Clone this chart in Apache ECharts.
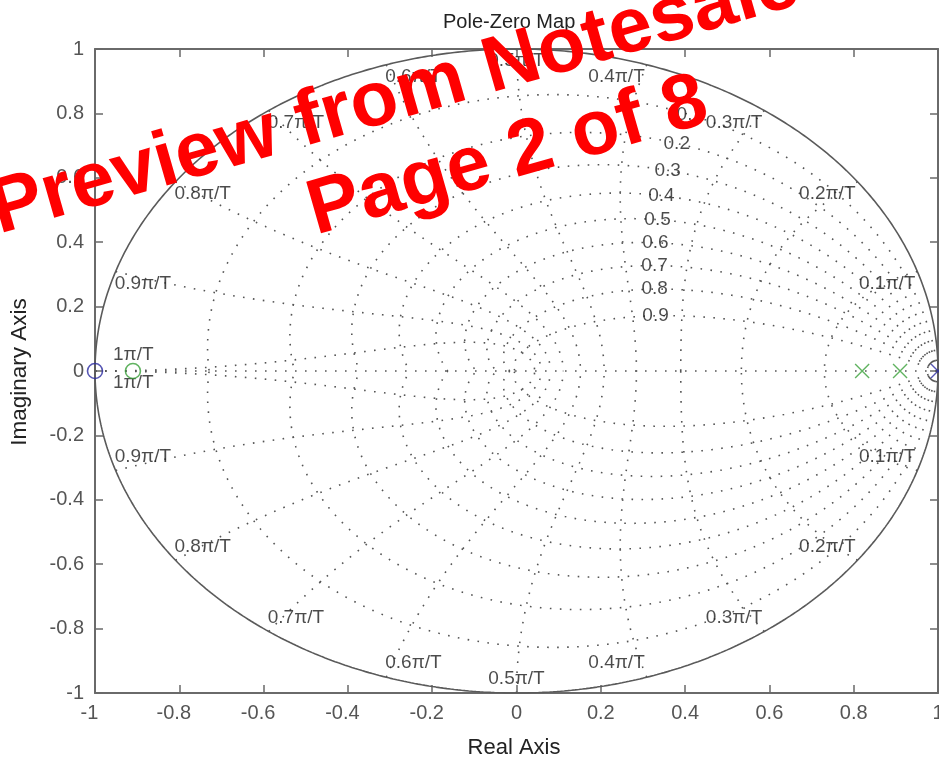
<!DOCTYPE html>
<html><head><meta charset="utf-8">
<script src="https://cdn.jsdelivr.net/npm/echarts@6/dist/echarts.min.js"></script>
<style>html,body{margin:0;padding:0;background:#fff;}#c{width:939px;height:762px;}</style>
</head><body><div id="c"></div>
<script>
// ---- data ----
const zetaValues = [0.1, 0.2, 0.3, 0.4, 0.5, 0.6, 0.7, 0.8, 0.9];
const zetaLabels = ['0.1', '0.2', '0.3', '0.4', '0.5', '0.6', '0.7', '0.8', '0.9'];
const wnValues = [0.1, 0.2, 0.3, 0.4, 0.5, 0.6, 0.7, 0.8, 0.9, 1.0]; // units of pi/T
const wnLabels = ['0.1π/T', '0.2π/T', '0.3π/T', '0.4π/T', '0.5π/T', '0.6π/T', '0.7π/T', '0.8π/T', '0.9π/T', '1π/T'];
const zetaLabelWn = 0.35; // natural frequency (pi/T) where damping labels sit
const zerosBlue = [[-1, 0]];
const zerosGreen = [[-0.91, 0]];
const polesGreen = [[0.82, 0], [0.91, 0]];
const polesBlue = [[1, 0]];
const axisMin = -1, axisMax = 1, axisStep = 0.2;
const titleText = 'Pole-Zero Map';
const xName = 'Real Axis';
const yName = 'Imaginary Axis';
const watermark = ['Preview from Notesale', 'Page 2 of 8'];

const FONT = '"Liberation Sans", Arial, sans-serif';
const DOT = { color: '#555', width: 1.6, type: [1.6, 8.4], cap: 'butt' };
const N = 240;

function zetaCurve(z, s) {
  const m = z / Math.sqrt(1 - z * z), pts = [];
  for (let i = 0; i <= N; i++) {
    const th = Math.PI * i / N, r = Math.exp(-m * th);
    pts.push([r * Math.cos(th), s * r * Math.sin(th)]);
  }
  return pts;
}
function wnCurve(w, s) {
  const wn = w * Math.PI, pts = [];
  for (let i = 0; i <= N; i++) {
    const zeta = Math.sin(Math.PI / 2 * i / N);
    const r = Math.exp(-zeta * wn), th = wn * Math.sqrt(Math.max(0, 1 - zeta * zeta));
    pts.push([r * Math.cos(th), s * r * Math.sin(th)]);
  }
  return pts;
}
function unitCircle() {
  const pts = [];
  for (let i = 0; i <= 720; i++) { const t = 2 * Math.PI * i / 720; pts.push([Math.cos(t), Math.sin(t)]); }
  return pts;
}
function lineSeries(data, style, z) {
  return { type: 'line', data, showSymbol: false, symbol: 'none', silent: true, lineStyle: style, z: z || 2, animation: false, clip: true };
}

const series = [];
zetaValues.forEach(z => { series.push(lineSeries(zetaCurve(z, 1), DOT)); series.push(lineSeries(zetaCurve(z, -1), DOT)); });
wnValues.forEach(w => { series.push(lineSeries(wnCurve(w, 1), DOT)); series.push(lineSeries(wnCurve(w, -1), DOT)); });
series.push(lineSeries([[axisMin, 0], [axisMax, 0]], DOT));
series.push(lineSeries(unitCircle(), { color: '#5a5a5a', width: 1.6, type: 'solid' }, 3));

// natural-frequency labels
const wnLabelData = [];
wnValues.forEach((w, i) => {
  [1, -1].forEach(s => {
    const x = Math.cos(w * Math.PI), y = s * Math.sin(w * Math.PI);
    let align, ox, oy;
    if (w < 0.5) { align = 'right'; ox = -2; }
    else if (w === 0.5) { align = 'center'; ox = 0; }
    else if (w < 1) { align = 'left'; ox = -1; }
    else { align = 'left'; ox = 18; }
    if (w === 1) oy = s > 0 ? -16 : 12; else oy = s > 0 ? 12 : -14;
    wnLabelData.push({ value: [x, y], label: { formatter: wnLabels[i], align, verticalAlign: 'middle', offset: [ox, oy] } });
  });
});
const zetaLabelData = zetaValues.map((z, i) => {
  const wn = zetaLabelWn * Math.PI, r = Math.exp(-z * wn), th = wn * Math.sqrt(1 - z * z);
  return { value: [r * Math.cos(th), r * Math.sin(th)], label: { formatter: zetaLabels[i], align: 'center', verticalAlign: 'middle' } };
});
const labelSeries = (data) => ({
  type: 'scatter', data, symbolSize: 1, itemStyle: { color: 'rgba(0,0,0,0)' }, silent: true, z: 5, clip: false,
  label: { show: true, position: 'inside', color: '#1e1e1e', fontSize: 19, fontFamily: FONT }, animation: false
});
series.push(labelSeries(wnLabelData));
series.push(labelSeries(zetaLabelData));

const ring = (data, color) => ({ type: 'scatter', data, symbol: 'circle', symbolSize: 15, z: 6, clip: false,
  itemStyle: { color: 'rgba(0,0,0,0)', borderColor: color, borderWidth: 1.6 }, animation: false });
const cross = (data, color) => ({ type: 'scatter', data, symbol: 'path://M0 0L10 10M10 0L0 10', symbolSize: 14, z: 6, clip: false,
  itemStyle: { color: 'none', borderColor: color, borderWidth: 1.4 }, animation: false });
series.push(ring(zerosBlue, '#2c2ca0'));
series.push(ring(zerosGreen, '#3aa03a'));
series.push(cross(polesGreen, '#3aa03a'));
series.push(cross(polesBlue, '#2c2ca0'));

const axisLine = { show: true, onZero: false, lineStyle: { color: '#6a6a6a', width: 2 } };
const axisTick = { show: true, inside: true, length: 8, lineStyle: { color: '#6a6a6a', width: 1.5 } };
const axisLabel = { color: '#555', fontSize: 20, fontFamily: FONT };
const base = { type: 'value', min: axisMin, max: axisMax, interval: axisStep, splitLine: { show: false }, axisLine, axisTick };

const option = {
  animation: false,
  backgroundColor: '#fff',
  grid: { left: 95, top: 49, width: 843, height: 644, containLabel: false, outerBoundsMode: 'none' },
  xAxis: [
    Object.assign({}, base, { position: 'bottom', axisLabel: Object.assign({ margin: 10,
      formatter: v => v < 0 ? '{neg|' + v + '}' : '' + v,
      rich: { neg: { color: '#555', fontSize: 20, fontFamily: FONT, padding: [0, 11, 0, 0] } } }, axisLabel) }),
    Object.assign({}, base, { position: 'top', axisLabel: { show: false } })
  ],
  yAxis: [
    Object.assign({}, base, { position: 'left', axisLabel: Object.assign({ margin: 11 }, axisLabel) }),
    Object.assign({}, base, { position: 'right', axisLabel: { show: false } })
  ],
  series,
  graphic: [
    { type: 'text', x: 443, y: 22, style: { text: titleText, fill: '#222', fontSize: 20, fontFamily: FONT, align: 'left', verticalAlign: 'middle' } },
    { type: 'text', x: 514, y: 748, style: { text: xName, fill: '#222', fontSize: 22, fontFamily: FONT, align: 'center', verticalAlign: 'middle' } },
    { type: 'text', x: 20, y: 372, rotation: Math.PI / 2, style: { text: yName, fill: '#222', fontSize: 22.5, fontFamily: FONT, align: 'center', verticalAlign: 'middle' } },
    { type: 'text', x: -7, y: 213, rotation: 16 * Math.PI / 180, z: 100, style: { text: watermark[0], fill: '#ff0000', fontSize: 78, fontWeight: 'bold', fontFamily: FONT, align: 'left', verticalAlign: 'middle' } },
    { type: 'text', x: 310, y: 214, rotation: 16 * Math.PI / 180, z: 100, style: { text: watermark[1], fill: '#ff0000', fontSize: 78, fontWeight: 'bold', fontFamily: FONT, align: 'left', verticalAlign: 'middle' } }
  ]
};
option.series.forEach(s => { s.xAxisIndex = 0; s.yAxisIndex = 0; });
const chart = echarts.init(document.getElementById('c'), null, { renderer: 'canvas' });
chart.setOption(option);
</script>
</body></html>
